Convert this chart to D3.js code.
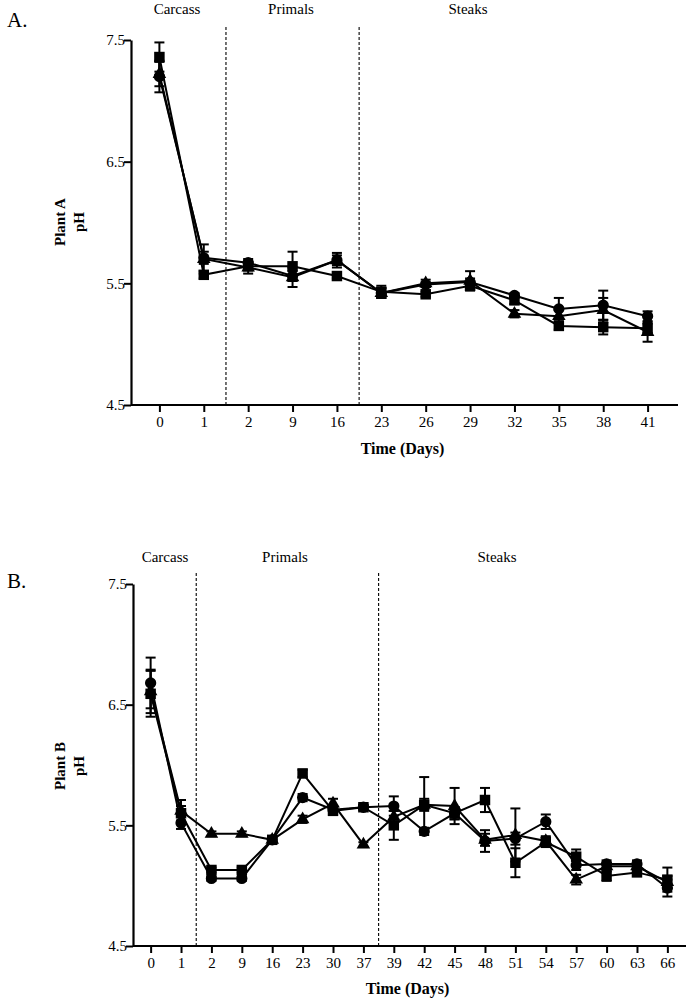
<!DOCTYPE html>
<html><head><meta charset="utf-8">
<script src="https://cdn.jsdelivr.net/npm/d3@7"></script>
<style>body{margin:0;background:#fff}svg{display:block}svg text{font-family:"Liberation Serif","Times New Roman",Times,serif !important;fill:#000}</style>
</head><body><svg id="c" width="688" height="1001"></svg>
<script>
// ---------- Data ----------
const yTicks = [4.5, 5.5, 6.5, 7.5];
const sections = ["Carcass", "Primals", "Steaks"];

const daysA = ["0","1","2","9","16","23","26","29","32","35","38","41"];
const circleA   = [7.20,5.71,5.67,5.56,5.69,5.42,5.49,5.51,5.40,5.29,5.32,5.23];
const squareA   = [7.36,5.57,5.64,5.64,5.56,5.43,5.41,5.48,5.36,5.15,5.14,5.13];
const triangleA = [7.22,5.70,5.63,5.55,5.69,5.42,5.50,5.52,5.25,5.23,5.28,5.10];
const circleErrA   = [0.13,0.05,0.03,0.04,0.04,0.04,0.02,0.03,0.02,0.09,0.12,0.04];
const squareErrA   = [0.12,0.03,0.03,0.12,0.02,0.05,0.02,0.03,0.03,0.03,0.06,0.04];
const triangleErrA = [0.10,0.12,0.05,0.08,0.06,0.04,0.03,0.08,0.03,0.05,0.10,0.08];

const daysB = ["0","1","2","9","16","23","30","37","39","42","45","48","51","54","57","60","63","66"];
const circleB   = [6.68,5.52,5.06,5.06,5.38,5.73,5.63,5.65,5.66,5.45,5.60,5.37,5.39,5.53,5.17,5.18,5.18,4.98];
const squareB   = [6.59,5.60,5.13,5.13,5.38,5.93,5.62,5.65,5.50,5.67,5.60,5.71,5.19,5.36,5.24,5.08,5.11,5.05];
const triangleB = [6.61,5.62,5.43,5.43,5.38,5.55,5.68,5.34,5.57,5.67,5.66,5.38,5.42,5.37,5.05,5.16,5.16,5.03];
const circleErrB   = [0.21,0.05,0.02,0.02,0.02,0.03,0.03,0.02,0.08,0.03,0.05,0.09,0.05,0.06,0.04,0.03,0.03,0.07];
const squareErrB   = [0.19,0.06,0.02,0.02,0.02,0.03,0.03,0.02,0.12,0.23,0.05,0.10,0.12,0.04,0.06,0.04,0.03,0.10];
const triangleErrB = [0.18,0.09,0.02,0.02,0.02,0.03,0.04,0.02,0.05,0.05,0.15,0.05,0.22,0.04,0.04,0.03,0.03,0.05];

// ---------- Layout ----------
const panels = [
  { letter:"A.", plant:"Plant A", days:daysA,
    series:[{shape:"triangle",v:triangleA,e:triangleErrA},{shape:"square",v:squareA,e:squareErrA},{shape:"circle",v:circleA,e:circleErrA}],
    xr:[131,676], pad:0.64, yr:[405,40], dividers:[[1,2],[4,5]],
    secX:[177,291,468], secY:14, dashTop:27, letterY:27, ylabY:222, xlabY:454, xAxisEnd:678 },
  { letter:"B.", plant:"Plant B", days:daysB,
    series:[{shape:"triangle",v:triangleB,e:triangleErrB},{shape:"square",v:squareB,e:squareErrB},{shape:"circle",v:circleB,e:circleErrB}],
    xr:[133,685], pad:0.58, yr:[946,584], dividers:[[1,2],[7,8]],
    secX:[165,285,497], secY:562, dashTop:573, letterY:588, ylabY:766, xlabY:994, xAxisEnd:686 }
];

const svg = d3.select("#c");

panels.forEach(p => {
  const g = svg.append("g");
  const x = d3.scalePoint().domain(p.days).range(p.xr).padding(p.pad);
  const y = d3.scaleLinear().domain([4.5, 7.5]).range(p.yr);

  g.append("text").attr("x", 7).attr("y", p.letterY).attr("font-size", 21).text(p.letter);

  sections.forEach((s, i) => {
    g.append("text").attr("x", p.secX[i]).attr("y", p.secY).attr("text-anchor","middle")
      .attr("font-size", 15).text(s);
  });

  p.dividers.forEach(([a, b]) => {
    const xx = (x(p.days[a]) + x(p.days[b])) / 2;
    g.append("line").attr("x1", xx).attr("x2", xx).attr("y1", p.dashTop).attr("y2", p.yr[0])
      .attr("stroke","#000").attr("stroke-width",1.1).attr("stroke-dasharray","3,2");
  });

  const ya = g.append("g").attr("transform", `translate(${p.xr[0]},0)`)
    .call(d3.axisLeft(y).tickValues(yTicks).tickFormat(d3.format(".1f")).tickSize(7).tickSizeOuter(0));
  const xa = g.append("g").attr("transform", `translate(0,${p.yr[0]})`)
    .call(d3.axisBottom(x).tickSize(7).tickSizeOuter(0));
  [ya, xa].forEach(a => {
    a.attr("font-family", null);
    a.select(".domain").attr("stroke-width", 2.2);
    a.selectAll(".tick line").attr("stroke-width", 2);
    a.selectAll("text").attr("font-size", 15).attr("fill","#000");
  });
  ya.selectAll("text").attr("x", -6);
  xa.selectAll("text").attr("y", 11);
  xa.select(".domain").attr("d", `M${p.xr[0]},0H${p.xAxisEnd}`);

  g.append("text").attr("transform", `translate(65,${p.ylabY}) rotate(-90)`).attr("text-anchor","middle")
    .attr("font-size", 15).attr("font-weight","bold").text(p.plant);
  g.append("text").attr("transform", `translate(84,${p.ylabY}) rotate(-90)`).attr("text-anchor","middle")
    .attr("font-size", 15).attr("font-weight","bold").text("pH");
  g.append("text").attr("x", (p.xr[0] + p.xAxisEnd) / 2 - 2).attr("y", p.xlabY).attr("text-anchor","middle")
    .attr("font-size", 16).attr("font-weight","bold").text("Time (Days)");

  const line = d3.line().x((d, i) => x(p.days[i])).y(d => y(d));

  p.series.forEach(s => {
    g.append("path").attr("d", line(s.v)).attr("fill","none").attr("stroke","#000").attr("stroke-width",2);
  });
  p.series.forEach(s => {
    s.v.forEach((v, i) => {
      const xx = x(p.days[i]);
      const top = y(v + s.e[i]), bot = y(v - s.e[i]);
      g.append("line").attr("x1",xx).attr("x2",xx).attr("y1",top).attr("y2",bot).attr("stroke","#000").attr("stroke-width",2);
      [top, bot].forEach(yy => g.append("line").attr("x1",xx-5).attr("x2",xx+5).attr("y1",yy).attr("y2",yy)
        .attr("stroke","#000").attr("stroke-width",2));
    });
  });
  const sym = {circle:d3.symbolCircle, square:d3.symbolSquare, triangle:d3.symbolTriangle};
  const size = {circle:100, square:110, triangle:80};
  p.series.forEach(s => {
    g.selectAll(null).data(s.v).enter().append("path")
      .attr("transform", (d, i) => `translate(${x(p.days[i])},${y(d)})`)
      .attr("d", d3.symbol().type(sym[s.shape]).size(size[s.shape]))
      .attr("fill","#000");
  });
});
</script></body></html>
